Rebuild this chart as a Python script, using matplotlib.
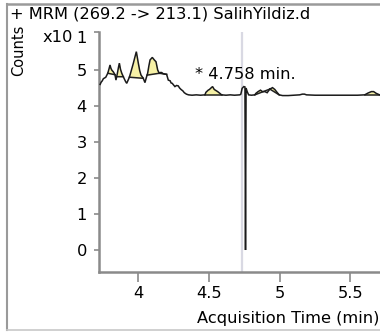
import numpy as np
import matplotlib
matplotlib.use("Agg")
import matplotlib.pyplot as plt
from matplotlib.lines import Line2D

plt.rcParams["font.family"] = ["DejaVu Sans"]
plt.rcParams["font.size"] = 11.7

# Chromatogram trace (acquisition time in min, counts x10^1)
times = [3.730, 3.737, 3.745, 3.753, 3.762, 3.770, 3.784, 3.792, 3.800, 3.806,
         3.812, 3.823, 3.835, 3.842, 3.852, 3.860, 3.866, 3.874, 3.883, 3.899,
         3.910, 3.918, 3.928, 3.937, 3.950, 3.965, 3.976, 3.986, 3.993, 4.000,
         4.010, 4.019, 4.035, 4.047, 4.056, 4.066, 4.075, 4.083, 4.099, 4.113,
         4.125, 4.137, 4.148, 4.156, 4.165, 4.175, 4.184, 4.200, 4.206, 4.212,
         4.225, 4.232, 4.240, 4.250, 4.259, 4.270, 4.282, 4.292, 4.302, 4.315,
         4.325, 4.340, 4.355, 4.380, 4.410, 4.440, 4.471, 4.478, 4.494, 4.503,
         4.511, 4.525, 4.537, 4.549, 4.561, 4.577, 4.589, 4.620, 4.650, 4.680,
         4.718, 4.725, 4.734, 4.746, 4.754, 4.758, 4.762, 4.770, 4.780, 4.800,
         4.824, 4.831, 4.847, 4.864, 4.878, 4.895, 4.911, 4.930, 4.949, 4.965,
         4.981, 4.996, 5.020, 5.060, 5.100, 5.141, 5.160, 5.175, 5.189, 5.250,
         5.350, 5.450, 5.550, 5.601, 5.624, 5.648, 5.664, 5.683, 5.706, 5.720]
counts = [4.60, 4.66, 4.70, 4.76, 4.78, 4.80, 4.91, 5.02, 5.14, 5.05,
          5.00, 4.95, 4.87, 4.72, 4.91, 5.08, 5.19, 5.02, 4.91, 4.77,
          4.68, 4.63, 4.72, 4.80, 4.98, 5.19, 5.36, 5.51, 5.35, 5.19,
          4.98, 4.86, 4.77, 4.65, 4.78, 4.91, 5.12, 5.28, 5.35, 5.28,
          5.23, 5.00, 4.91, 4.93, 4.93, 4.90, 4.89, 4.88, 4.80, 4.72,
          4.70, 4.64, 4.63, 4.58, 4.54, 4.57, 4.56, 4.50, 4.46, 4.42,
          4.37, 4.33, 4.31, 4.30, 4.31, 4.30, 4.31, 4.38, 4.44, 4.46,
          4.49, 4.54, 4.46, 4.43, 4.40, 4.35, 4.31, 4.30, 4.31, 4.30,
          4.31, 4.33, 4.49, 4.54, 4.53, 0.00, 4.50, 4.40, 4.31, 4.30,
          4.31, 4.35, 4.40, 4.44, 4.40, 4.40, 4.37, 4.47, 4.51, 4.46,
          4.38, 4.31, 4.29, 4.29, 4.30, 4.31, 4.33, 4.33, 4.31, 4.30,
          4.30, 4.30, 4.30, 4.31, 4.36, 4.40, 4.40, 4.35, 4.31, 4.30]

# Integrated peak windows (start, end) in min
peak_starts = [3.784, 3.847, 3.937, 4.062, 4.148, 4.471, 4.824, 4.930, 5.601]
peak_ends = [3.835, 3.894, 4.035, 4.148, 4.200, 4.589, 4.930, 4.996, 5.706]

rt_found = 4.758
rt_expected = 4.731
rt_label = "* 4.758 min."
y_ticks = [0, 1, 2, 3, 4, 5]
x_ticks = [4, 4.5, 5, 5.5]
x_ticklabels = ["4", "4.5", "5", "5.5"]

W, H = 380, 332
fig = plt.figure(figsize=(W / 100, H / 100), dpi=100)
ax = fig.add_axes([99 / W, 1 - 272 / H, 1 - 99 / W, (272 - 32) / H])

t = np.array(times)
c = np.array(counts)

ax.axvline(rt_expected, color="#d9d9e3", lw=1.6, zorder=1)

for s, e in zip(peak_starts, peak_ends):
    cs, ce = np.interp(s, t, c), np.interp(e, t, c)
    tt = np.concatenate([[s], t[(t > s) & (t < e)], [e]])
    cc = np.interp(tt, t, c)
    base = cs + (ce - cs) * (tt - s) / (e - s)
    ax.fill_between(tt, base, cc, where=cc >= base, interpolate=True,
                    color="#f6f1a6", lw=0, zorder=2)
    ax.plot([s, e], [cs, ce], color="#222222", lw=1.1, zorder=3)

ax.plot(t, c, color="#1a1a1a", lw=1.1, zorder=4, solid_joinstyle="miter")

ax.text(rt_found, 4.87, rt_label, ha="center", va="center", zorder=5)

ax.set_xlim(3.722, 5.709)
ax.set_ylim(-0.611, 6.056)
ax.set_xticks(x_ticks)
ax.set_xticklabels(x_ticklabels)
ax.set_yticks(y_ticks + [6.056])
ax.set_yticklabels([str(v) for v in y_ticks] + [""])

for side in ("top", "right"):
    ax.spines[side].set_visible(False)
for side in ("left", "bottom"):
    ax.spines[side].set_color("#8a8a8a")
    ax.spines[side].set_linewidth(1.8)

ax.tick_params(axis="x", length=7.2, width=1.2, pad=3, color="#8a8a8a")
ax.tick_params(axis="y", length=3.8, width=1.2, pad=5, color="#8a8a8a")
ax.patch.set_alpha(0)

# Header, axis titles and scale factor
fig.text(10 / W, 1 - 14 / H, "+ MRM (269.2 -> 213.1) SalihYildiz.d",
         ha="left", va="center")
fig.text(19 / W, 1 - 50 / H, "Counts", rotation=90, ha="center", va="center",
         fontsize=10.5)
fig.text(43 / W, 1 - 37 / H, "x10", ha="left", va="center")
fig.text(87 / W, 1 - 31 / H, "1", ha="right", va="top")
fig.text(379 / W, 1 - 318 / H, "Acquisition Time (min)", ha="right", va="center")

# Outer frame
fc = "#9a9a9a"
fig.add_artist(Line2D([7 / W, 1.0], [1 - 3.5 / H, 1 - 3.5 / H],
                      transform=fig.transFigure, color=fc, lw=1.8))
fig.add_artist(Line2D([7 / W, 7 / W], [1 - 3.5 / H, 1 - 330 / H],
                      transform=fig.transFigure, color=fc, lw=1.5))
fig.add_artist(Line2D([7 / W, 1.0], [1 - 330 / H, 1 - 330 / H],
                      transform=fig.transFigure, color="#c8c8c8", lw=1.2))

fig.savefig("out.png", dpi=100)
